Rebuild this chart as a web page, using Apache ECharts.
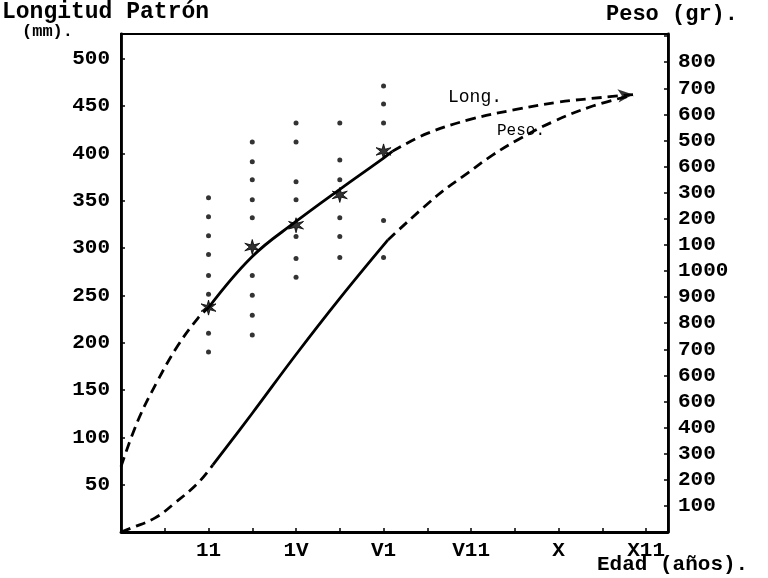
<!DOCTYPE html>
<html lang="es">
<head>
    <meta charset="UTF-8">
    <title>Longitud y peso por edad</title>
    <script src="https://cdn.jsdelivr.net/npm/echarts@6/dist/echarts.min.js"></script>
    <style>html,body{margin:0;background:#fff}</style>
</head>
<body>
    <div id="main" style="width:768px;height:578px;"></div>

    <script type="text/javascript">
        // eje X: edad en años (numerales a máquina, tal cual)
        var edadValores = [2, 4, 6, 8, 10, 12];
        var edadLabels = ['11', '1V', 'V1', 'V11', 'X', 'X11'];

        // eje derecho: peso (gr), etiquetas como aparecen en el original
        var pesoValores = [100, 200, 300, 400, 500, 600, 700, 800, 900, 1000, 1100, 1200, 1300, 1400, 1500, 1600, 1700, 1800];
        var pesoLabels = ['100', '200', '300', '400', '600', '600', '700', '800', '900', '1000', '100', '200', '300', '600', '500', '600', '700', '800'];

        // curva de longitud (mm)
        var longTramo1 = [[0, 69], [0.39, 118], [0.84, 160], [1.3, 197], [1.76, 226], [2, 237]];
        var longTramo2 = [[2, 237], [3, 291], [4, 328], [5, 362], [6, 395], [6.2, 402]];
        var longTramo3 = [[6.2, 402], [7, 421], [8, 436], [9, 446], [10, 454], [11, 459], [11.7, 462]];

        // curva de peso (gr)
        var pesoTramo1 = [[0, 0], [0.23, 15], [0.78, 54], [1.23, 111], [1.76, 188], [2.1, 257]];
        var pesoTramo2 = [[2.1, 257], [3, 455], [4, 680], [5, 895], [6.1, 1119]];
        var pesoTramo3 = [[6.1, 1119], [7.24, 1291], [7.92, 1375], [8.49, 1444], [9.06, 1502], [9.86, 1571], [10.78, 1632], [11.7, 1674]];

        // medias (asteriscos) y valores individuales por edad
        var edadesMedia = [2, 3, 4, 5, 6];
        var longMedia = [237, 301, 324, 356, 402];
        var indiv2 = [353, 333, 313, 293, 271, 251, 210, 190];
        var indiv3 = [412, 391, 372, 351, 332, 271, 250, 229, 208];
        var indiv4 = [432, 412, 370, 351, 312, 289, 269];
        var indiv5 = [432, 393, 372, 332, 312, 290];
        var indiv6 = [471, 452, 432, 329, 290];

        var fuente = 'Liberation Mono, DejaVu Sans Mono, monospace';
        var asterisco = 'path://M0,-10L1.7,-2.9L8.66,-5L3.4,0L8.66,5L1.7,2.9L0,10L-1.7,2.9L-8.66,5L-3.4,0L-8.66,-5L-1.7,-2.9Z';

        function puntos(edad, vals) {
            return vals.map(function (v) { return [edad, v]; });
        }
        var individuales = [].concat(puntos(2, indiv2), puntos(3, indiv3), puntos(4, indiv4), puntos(5, indiv5), puntos(6, indiv6));
        var medias = edadesMedia.map(function (e, i) { return [e, longMedia[i]]; });

        function linea(data, eje, dash) {
            return {
                type: 'line', data: data, yAxisIndex: eje, smooth: 0.4, symbol: 'none',
                lineStyle: { color: '#000', width: 2.8, type: dash ? [10, 6] : 'solid' },
                z: 3
            };
        }

        var etiqueta = { color: '#000', fontFamily: fuente, fontWeight: 'bold', fontSize: 21 };

        var myChart = echarts.init(document.getElementById('main'));
        myChart.setOption({
            backgroundColor: '#fff',
            animation: false,
            grid: { left: 121, right: 100, top: 34, bottom: 46, show: true, borderColor: '#000', borderWidth: 2 },
            xAxis: {
                type: 'value', min: 0, max: 12.5, interval: 1,
                axisLine: { lineStyle: { color: '#000', width: 2.8 } },
                axisTick: { inside: true, length: 4, lineStyle: { color: '#000', width: 1.5 } },
                splitLine: { show: false },
                axisLabel: Object.assign({}, etiqueta, {
                    margin: 8,
                    formatter: function (v) {
                        var i = edadValores.indexOf(v);
                        return i < 0 ? '' : edadLabels[i];
                    }
                })
            },
            yAxis: [{
                type: 'value', min: 0, max: 526, interval: 50, position: 'left',
                axisLine: { show: true, lineStyle: { color: '#000', width: 2.8 } },
                axisTick: { show: true, inside: true, length: 4, lineStyle: { color: '#000', width: 1.5 } },
                splitLine: { show: false },
                axisLabel: Object.assign({}, etiqueta, {
                    margin: 11,
                    formatter: function (v) { return (v > 0 && v <= 500) ? String(v) : ''; }
                })
            }, {
                type: 'value', min: 0, max: 1908, interval: 100, position: 'right',
                axisLine: { show: true, lineStyle: { color: '#000', width: 2.8 } },
                axisTick: { show: true, inside: true, length: 4, lineStyle: { color: '#000', width: 1.5 } },
                splitLine: { show: false },
                axisLabel: Object.assign({}, etiqueta, {
                    margin: 10,
                    formatter: function (v) {
                        var i = pesoValores.indexOf(v);
                        return i < 0 ? '' : pesoLabels[i];
                    }
                })
            }],
            graphic: [
                { type: 'text', left: 2, top: 1, style: { text: 'Longitud Patrón', font: 'bold 23px ' + fuente, fill: '#000' } },
                { type: 'text', left: 22, top: 23, style: { text: '(mm).', font: 'bold 17px ' + fuente, fill: '#000' } },
                { type: 'text', left: 606, top: 3, style: { text: 'Peso (gr).', font: 'bold 22px ' + fuente, fill: '#000' } },
                { type: 'text', left: 597, top: 554, style: { text: 'Edad (años).', font: 'bold 21px ' + fuente, fill: '#000' } },
                { type: 'text', left: 448, top: 88, style: { text: 'Long.', font: '18px ' + fuente, fill: '#000' } },
                { type: 'text', left: 497, top: 123, style: { text: 'Peso.', font: '16px ' + fuente, fill: '#000' } }
            ],
            series: [
                linea(longTramo1, 0, true),
                linea(longTramo2, 0, false),
                linea(longTramo3, 0, true),
                linea(pesoTramo1, 1, true),
                linea(pesoTramo2, 1, false),
                linea(pesoTramo3, 1, true),
                {
                    type: 'scatter', data: individuales, yAxisIndex: 0,
                    symbol: 'circle', symbolSize: 5, itemStyle: { color: '#000' }, z: 4
                },
                {
                    type: 'scatter', data: medias, yAxisIndex: 0,
                    symbol: asterisco, symbolSize: 15,
                    itemStyle: { color: '#000', borderColor: '#000', borderWidth: 1 }, z: 5
                },
                {
                    type: 'scatter', data: [longTramo3[longTramo3.length - 1]], yAxisIndex: 0,
                    symbol: 'arrow', symbolSize: [10, 15], symbolRotate: -85, itemStyle: { color: '#000' }, z: 5
                }
            ]
        });
    </script>
</body>
</html>
